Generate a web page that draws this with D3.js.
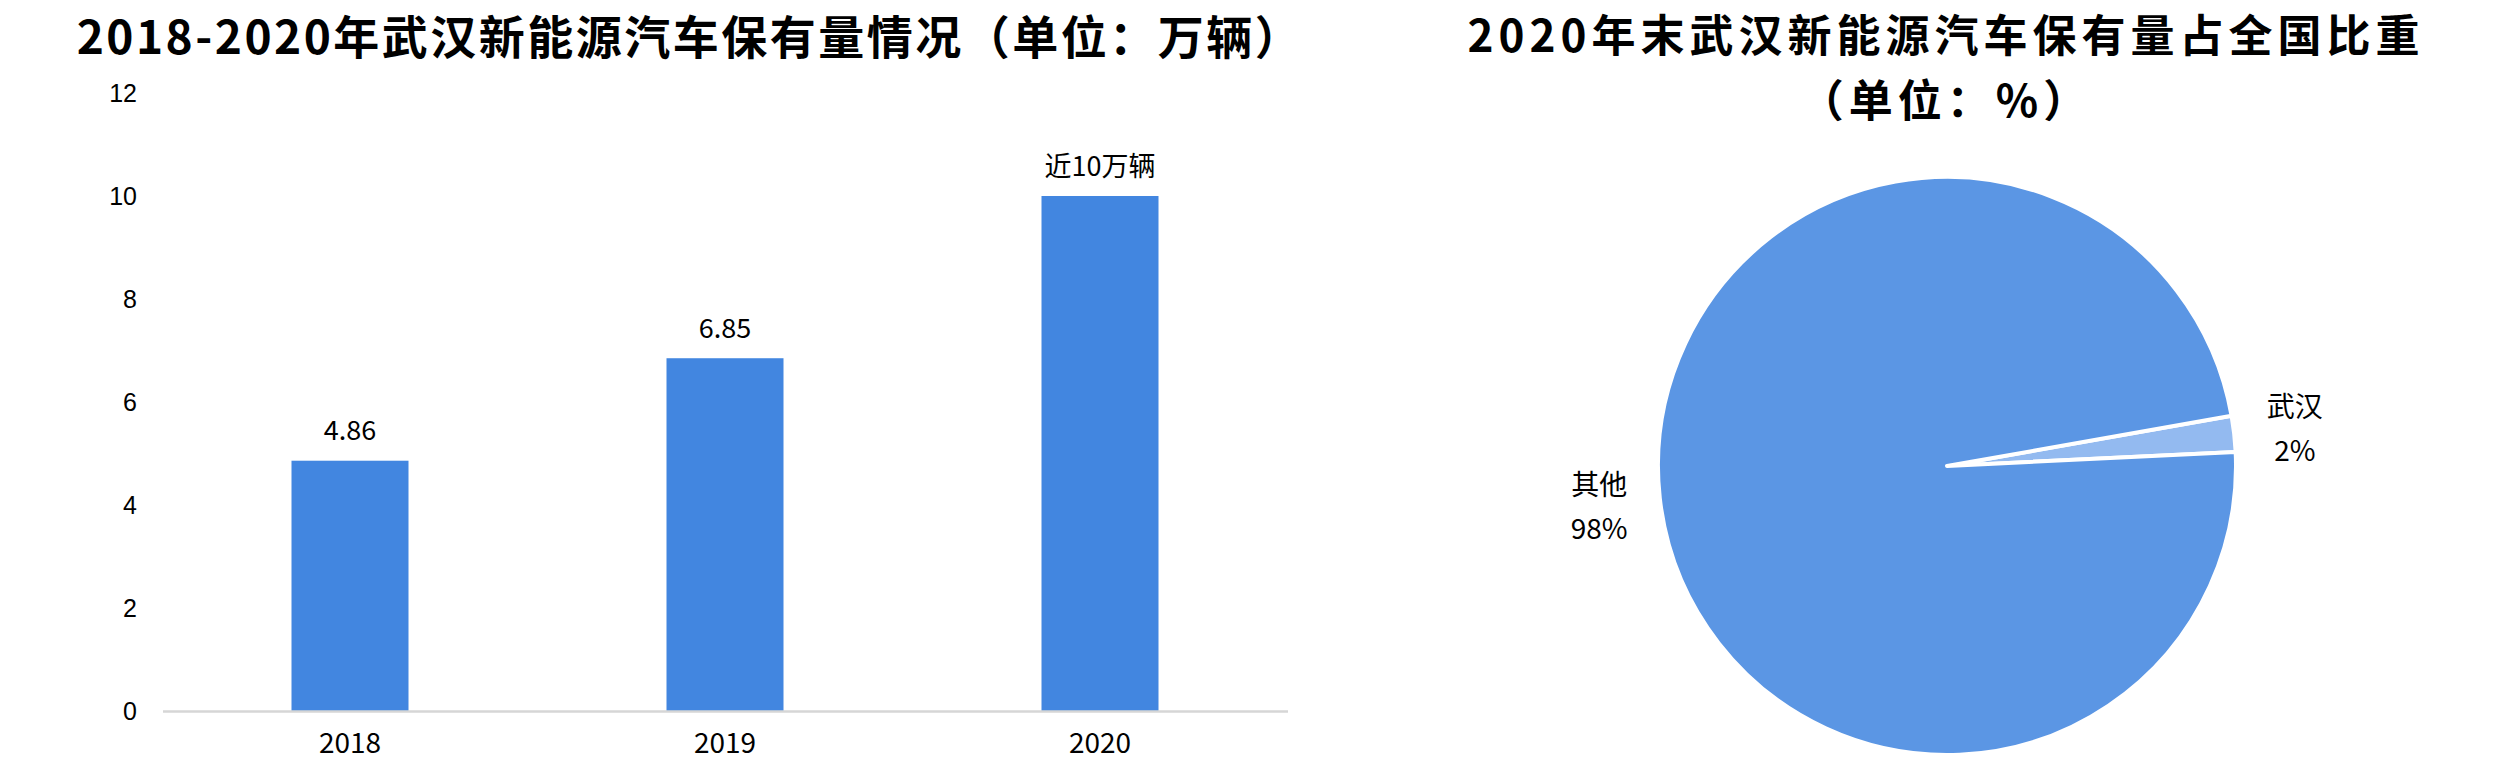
<!DOCTYPE html>
<html><head><meta charset="utf-8">
<script src="https://cdn.jsdelivr.net/npm/d3@7"></script>
<style>
html,body{margin:0;padding:0;background:#fff;}
svg{display:block;}
</style></head>
<body>
<svg id="chart" width="2514" height="776"></svg>
<script>
// ---- data ----
const years = ["2018", "2019", "2020"];
const ownership = [4.86, 6.85, 10];
const barLabels = ["4.86", "6.85", "近10万辆"];
const yTicks = [0, 2, 4, 6, 8, 10, 12];
const shareNames = ["武汉", "其他"];
const shareValues = [2, 98];
const shareLabels = ["2%", "98%"];
const barTitle = "2018-2020年武汉新能源汽车保有量情况（单位：万辆）";
const pieTitle1 = "2020年末武汉新能源汽车保有量占全国比重";
const pieTitle2 = "（单位：%）";

const CJK = "'Noto Sans CJK SC', 'Noto Sans', sans-serif";
const svg = d3.select("#chart");

// ---- titles ----
svg.append("text").attr("x", 690).attr("y", 34)
  .attr("text-anchor", "middle").attr("dominant-baseline", "central")
  .style("font-family", CJK).style("font-weight", 700).style("font-size", "46px")
  .style("letter-spacing", "2.5px")
  .attr("fill", "#000").text(barTitle);
svg.append("text").attr("x", 1946).attr("y", 33)
  .attr("text-anchor", "middle").attr("dominant-baseline", "central")
  .style("font-family", CJK).style("font-weight", 700).style("font-size", "44px")
  .style("letter-spacing", "5px")
  .attr("fill", "#000").text(pieTitle1);
svg.append("text").attr("x", 1946).attr("y", 98)
  .attr("text-anchor", "middle").attr("dominant-baseline", "central")
  .style("font-family", CJK).style("font-weight", 700).style("font-size", "44px")
  .style("letter-spacing", "5px")
  .attr("fill", "#000").text(pieTitle2);

// ---- bar chart ----
const x = d3.scaleBand().domain(years).range([162.5, 1287.5])
  .paddingInner(0.688).paddingOuter(0.344);
const y = d3.scaleLinear().domain([0, 12]).range([711, 93]);

const gy = svg.append("g").attr("transform", "translate(137,0)")
  .call(d3.axisLeft(y).tickValues(yTicks).tickSize(0).tickPadding(0));
gy.select(".domain").remove();
gy.selectAll("text").style("font-family", "'Liberation Sans', Arial, sans-serif")
  .style("font-size", "25px").attr("fill", "#000");

svg.append("g").selectAll("rect").data(years).join("rect")
  .attr("x", d => x(d)).attr("width", x.bandwidth())
  .attr("y", (d, i) => y(ownership[i]))
  .attr("height", (d, i) => y(0) - y(ownership[i]))
  .attr("fill", "#4286E0");

const gx = svg.append("g").attr("transform", `translate(0,${y(0)})`)
  .call(d3.axisBottom(x).tickSize(0).tickPadding(22));
gx.select(".domain").attr("stroke", "#D6D6D6").attr("stroke-width", 2.5);
gx.selectAll("text").style("font-family", CJK).style("font-size", "28px")
  .attr("fill", "#000");

svg.append("g").selectAll("text").data(years).join("text")
  .attr("x", d => x(d) + x.bandwidth() / 2)
  .attr("y", (d, i) => y(ownership[i]) - 32)
  .attr("text-anchor", "middle").attr("dominant-baseline", "central")
  .style("font-family", CJK).style("font-size", "27px").attr("fill", "#000")
  .text((d, i) => barLabels[i]);

// ---- pie chart ----
const cx = 1947, cy = 466, r = 289;
const startA = 80 * Math.PI / 180;
const pie = d3.pie().sort(null).startAngle(startA).endAngle(startA + 2 * Math.PI);
const arcs = pie(shareValues);
const arc = d3.arc().innerRadius(0).outerRadius(r);
const labelArc = d3.arc().innerRadius(350).outerRadius(350);
const colors = ["#93BAF0", "#5B96E4"];

const gp = svg.append("g").attr("transform", `translate(${cx},${cy})`);
gp.selectAll("path").data(arcs).join("path")
  .attr("d", arc).attr("fill", (d, i) => colors[i])
  .attr("stroke", "#fff").attr("stroke-width", 4).attr("stroke-linejoin", "round");

const lab = gp.selectAll("g.lab").data(arcs).join("g").attr("class", "lab")
  .attr("transform", d => `translate(${labelArc.centroid(d)})`);
lab.append("text").attr("y", -22).attr("text-anchor", "middle")
  .attr("dominant-baseline", "central")
  .style("font-family", CJK).style("font-size", "28px").attr("fill", "#000")
  .text((d, i) => shareNames[i]);
lab.append("text").attr("y", 22).attr("text-anchor", "middle")
  .attr("dominant-baseline", "central")
  .style("font-family", CJK).style("font-size", "28px").attr("fill", "#000")
  .text((d, i) => shareLabels[i]);
</script>
</body></html>
